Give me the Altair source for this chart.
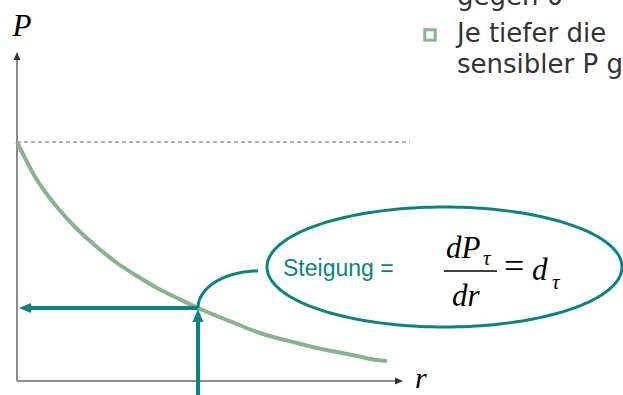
import altair as alt
import numpy as np
import pandas as pd

# Diagram units: origin of the r/P axes sits at (0, 0); one unit = one pixel.
W, H = 623, 395
X_DOMAIN = [-17, 606]
Y_DOMAIN = [-14, 381]

# Price curve P(r) (convex, falling)
curve_r = [0, 20, 40, 60, 80, 100, 120, 140, 160, 181, 200, 220, 240, 260,
           280, 300, 320, 340, 360, 370]
curve_p = [239, 201, 174, 152, 134, 118, 105, 93, 83, 73, 65, 57, 49, 43,
           38, 33, 29, 25, 21, 20]

# Reference level of P at r = 0
p_max = 239
dash_end = 393

# Chosen rate and the resulting price
r_sel, p_sel = 181, 73

# Slope callout ellipse and its connector
ell_cx, ell_cy, ell_rx, ell_ry = 427.5, 114, 177.5, 60
conn_cx, conn_cy, conn_rx, conn_ry = 241, 73, 60, 37

TEAL = "#0b8383"
GREEN = "#88b48a"
AXIS = "#8c8c8c"
DARK = "#333333"

xs = alt.Scale(domain=X_DOMAIN, nice=False, zero=False)
ys = alt.Scale(domain=Y_DOMAIN, nice=False, zero=False)


def X(f="x"):
    return alt.X(f"{f}:Q", scale=xs, axis=None)


def Y(f="y"):
    return alt.Y(f"{f}:Q", scale=ys, axis=None)


def seg(x1, y1, x2, y2, color, width, dash=None):
    df = pd.DataFrame({"x": [x1], "y": [y1], "x2": [x2], "y2": [y2]})
    kw = dict(color=color, strokeWidth=width)
    if dash:
        kw["strokeDash"] = dash
    return alt.Chart(df).mark_rule(**kw).encode(
        x=X(), y=Y(), x2="x2:Q", y2="y2:Q"
    )


def head(x, y, path, size, color):
    df = pd.DataFrame({"x": [x], "y": [y]})
    return alt.Chart(df).mark_point(
        shape=path, size=size, filled=True, color=color, opacity=1, strokeWidth=0
    ).encode(x=X(), y=Y())


def ellipse_arc(cx, cy, rx, ry, t0, t1, n, color, width):
    t = np.linspace(t0, t1, n)
    df = pd.DataFrame({
        "x": cx + rx * np.cos(t),
        "y": cy + ry * np.sin(t),
        "i": np.arange(n),
    })
    return alt.Chart(df).mark_line(color=color, strokeWidth=width).encode(
        x=X(), y=Y(), order="i:Q"
    )


def label(x, y, text, size, color="black", font="Liberation Serif",
          style="normal", align="left"):
    df = pd.DataFrame({"x": [x], "y": [y], "t": [text]})
    return alt.Chart(df).mark_text(
        align=align, baseline="alphabetic", fontSize=size, font=font,
        fontStyle=style, color=color
    ).encode(x=X(), y=Y(), text="t:N")


# Arrowhead outlines with the tip at the symbol's anchor
UP = "M0,0L-0.85,2L0.85,2Z"
LEFT = "M0,0L2,-0.85L2,0.85Z"
RIGHT = "M0,0L-2,-0.85L-2,0.85Z"

# Axes with arrowheads
axes = [
    seg(0, 0, 0, 323, AXIS, 2),
    seg(0, 0, 379, 0, AXIS, 2),
    head(0, 329, UP, 64, DARK),
    head(386, 0, RIGHT, 64, DARK),
]

dashed = seg(0, p_max, dash_end, p_max, "#666666", 1, [4, 3])

curve_df = pd.DataFrame({"r": curve_r, "p": curve_p})
curve = alt.Chart(curve_df).mark_line(
    color=GREEN, strokeWidth=4, interpolate="monotone"
).encode(x=X("r"), y=Y("p"))

# Read-off arrows: from the chosen r up to the curve, then across to P
arrows = [
    seg(r_sel, -14, r_sel, p_sel - 10, TEAL, 4),
    head(r_sel, p_sel - 1, UP, 169, TEAL),
    seg(r_sel, p_sel, 10, p_sel, TEAL, 4),
    head(2, p_sel, LEFT, 144, TEAL),
]

connector = ellipse_arc(conn_cx, conn_cy, conn_rx, conn_ry,
                        np.pi, np.pi / 2, 40, TEAL, 3)
callout = ellipse_arc(ell_cx, ell_cy, ell_rx, ell_ry,
                      0, 2 * np.pi, 181, TEAL, 3)

texts = [
    label(5, 345, "P", 31, style="italic", align="center"),
    label(398, -7, "r", 30, style="italic"),
    label(266, 105, "Steigung =", 23, color=TEAL, font="Liberation Sans"),
    label(429, 123, "dP", 31, style="italic"),
    label(466, 116, "τ", 21, style="italic"),
    seg(427, 110, 480, 110, "black", 1.5),
    label(435, 75, "dr", 31, style="italic"),
    label(487, 103, "=", 36),
    label(515, 101, "d", 31, style="italic"),
    label(535, 92, "τ", 21, style="italic"),
]

# Slide bullet text at the top right
bullet_font = "DejaVu Sans"
bullets = [
    label(440, 376, "gegen 0", 26, color=DARK, font=bullet_font),
    label(440, 339, "Je tiefer die", 26, color=DARK, font=bullet_font),
    label(440, 308, "sensibler P g", 26, color=DARK, font=bullet_font),
    alt.Chart(pd.DataFrame({"x": [413], "y": [346]})).mark_point(
        shape="square", size=110, filled=False, color=GREEN, strokeWidth=3,
        opacity=1
    ).encode(x=X(), y=Y()),
]

chart = alt.layer(
    dashed, *axes, curve, connector, callout, *arrows, *texts, *bullets
).properties(
    width=W, height=H, padding=0, autosize=alt.AutoSizeParams(type="none")
).configure_view(stroke=None)

chart.save("out.html", embed_options={"renderer": "svg", "actions": False})
